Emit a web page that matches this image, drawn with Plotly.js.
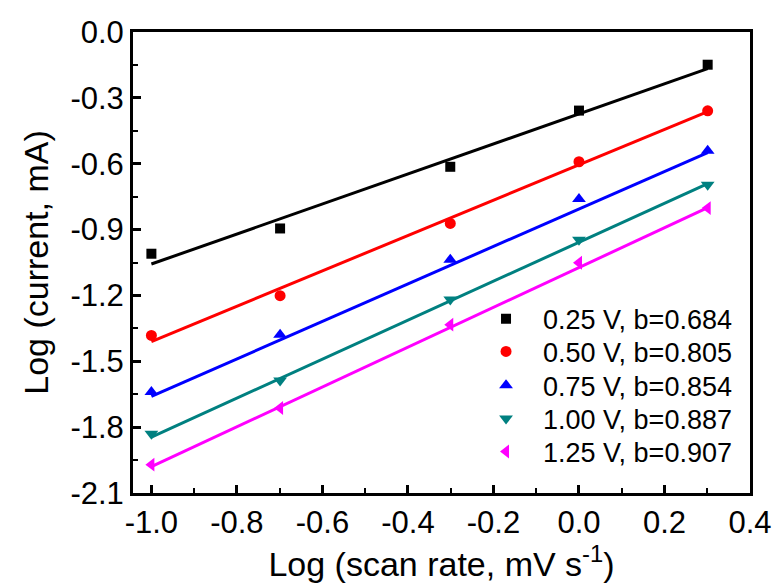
<!DOCTYPE html>
<html>
<head>
<meta charset="utf-8">
<script src="https://cdn.plot.ly/plotly-3.0.1.min.js"></script>
<style>html,body{margin:0;padding:0;background:#fff;}#chart{width:781px;height:583px;}</style>
</head>
<body>
<div id="chart"></div>
<script>
// Log scan rate (x) values
const xs = [-1.0, -0.699, -0.301, 0.0, 0.301];
// Measured log current for each potential
const y025 = [-1.010, -0.895, -0.614, -0.358, -0.149];
const y050 = [-1.382, -1.201, -0.872, -0.591, -0.359];
const y075 = [-1.640, -1.379, -1.037, -0.761, -0.541];
const y100 = [-1.830, -1.587, -1.219, -0.946, -0.696];
const y125 = [-1.971, -1.713, -1.333, -1.051, -0.802];
// Linear fit end points
const fitX = [-1.0, 0.301];
const fit025 = [-1.057, -0.167];
const fit050 = [-1.410, -0.363];
const fit075 = [-1.660, -0.549];
const fit100 = [-1.845, -0.691];
const fit125 = [-1.980, -0.800];
const names = ["0.25 V, b=0.684", "0.50 V, b=0.805", "0.75 V, b=0.854", "1.00 V, b=0.887", "1.25 V, b=0.907"];
// Tick labels
const xTickVals = [-1.0, -0.8, -0.6, -0.4, -0.2, 0.0, 0.2, 0.4];
const xTickText = ["-1.0", "-0.8", "-0.6", "-0.4", "-0.2", "0.0", "0.2", "0.4"];
const yTickVals = [0.0, -0.3, -0.6, -0.9, -1.2, -1.5, -1.8, -2.1];
const yTickText = ["0.0", "-0.3", "-0.6", "-0.9", "-1.2", "-1.5", "-1.8", "-2.1"];

const series = [
  {y: y025, fit: fit025, color: "#000000", symbol: "square", size: 10},
  {y: y050, fit: fit050, color: "#ff0000", symbol: "circle", size: 11},
  {y: y075, fit: fit075, color: "#0000ff", symbol: "triangle-up", size: 12},
  {y: y100, fit: fit100, color: "#008080", symbol: "triangle-down", size: 12},
  {y: y125, fit: fit125, color: "#ff00ff", symbol: "triangle-left", size: 12}
];
const legendIds = ["legend", "legend2", "legend3", "legend4", "legend5"];
const legendY = [0.377, 0.306, 0.233, 0.1605, 0.089];

const traces = [];
series.forEach((s, i) => {
  traces.push({
    x: fitX, y: s.fit, mode: "lines", type: "scatter", showlegend: false,
    line: {color: s.color, width: 3}, hoverinfo: "skip"
  });
});
series.forEach((s, i) => {
  traces.push({
    x: xs, y: s.y, mode: "markers", type: "scatter", name: names[i],
    legend: legendIds[i],
    marker: {color: s.color, symbol: s.symbol, size: s.size}
  });
});

const font = "Liberation Sans, Arial, sans-serif";
const layout = {
  width: 781, height: 583, autosize: false,
  margin: {l: 133, r: 31, t: 32, b: 90},
  paper_bgcolor: "#fff", plot_bgcolor: "#fff",
  font: {family: font, color: "#000", size: 30},
  showlegend: true,
  xaxis: {
    range: [-1.043, 0.4],
    tickvals: xTickVals, ticktext: xTickText,
    ticks: "inside", ticklen: 8, tickwidth: 3, tickcolor: "#000",
    minor: {ticks: "inside", ticklen: 5, tickwidth: 2, dtick: 0.1, tick0: 0, tickcolor: "#000", showgrid: false},
    showline: true, linewidth: 3, linecolor: "#000", mirror: true,
    showgrid: false, zeroline: false,
    tickfont: {family: font, size: 31, color: "#000"},
    title: {text: "Log (scan rate, mV s<sup>-1</sup>)", font: {family: font, size: 34, color: "#000"}, standoff: 10}
  },
  yaxis: {
    range: [-2.1, 0.0],
    tickvals: yTickVals, ticktext: yTickText,
    ticks: "inside", ticklen: 8, tickwidth: 3, tickcolor: "#000",
    minor: {ticks: "inside", ticklen: 5, tickwidth: 2, dtick: 0.15, tick0: 0, tickcolor: "#000", showgrid: false},
    showline: true, linewidth: 3, linecolor: "#000", mirror: true,
    showgrid: false, zeroline: false,
    tickfont: {family: font, size: 31, color: "#000"},
    title: {text: "Log (current, mA)", font: {family: font, size: 34, color: "#000"}, standoff: 12}
  }
};
legendIds.forEach((id, i) => {
  layout[id] = {
    x: 0.5446, y: legendY[i], xanchor: "left", yanchor: "middle",
    bgcolor: "rgba(0,0,0,0)", borderwidth: 0, itemwidth: 64,
    font: {family: font, size: 27, color: "#000"}
  };
});

Plotly.newPlot("chart", traces, layout, {displayModeBar: false, staticPlot: true});
</script>
</body>
</html>
